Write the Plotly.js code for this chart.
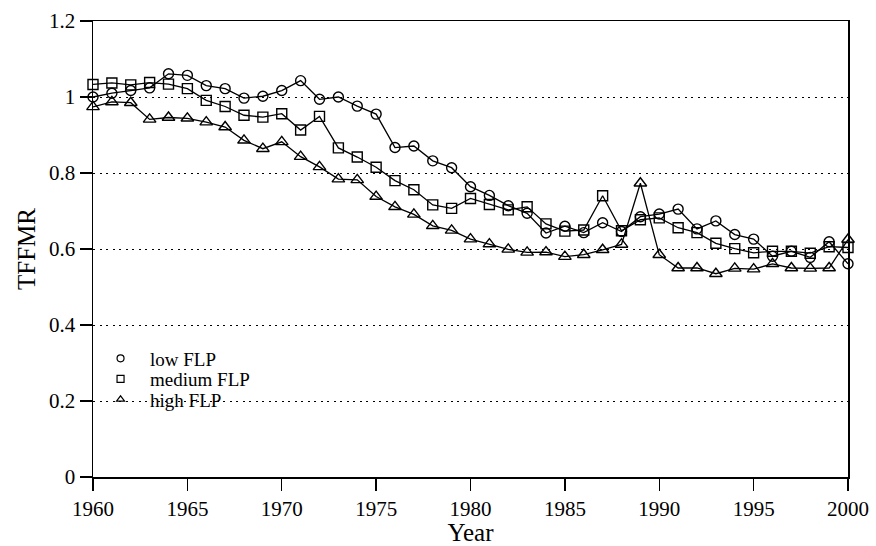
<!DOCTYPE html>
<html>
<head>
<meta charset="utf-8">
<script src="https://cdn.plot.ly/plotly-3.0.1.min.js"></script>
<style>html,body{margin:0;padding:0;background:#fff;}#chart{width:876px;height:546px;}</style>
</head>
<body>
<div id="chart"></div>
<script>
const years = [1960,1961,1962,1963,1964,1965,1966,1967,1968,1969,1970,1971,1972,1973,1974,1975,1976,1977,1978,1979,1980,1981,1982,1983,1984,1985,1986,1987,1988,1989,1990,1991,1992,1993,1994,1995,1996,1997,1998,1999,2000];
const lowFLP = [1.000,1.010,1.017,1.024,1.061,1.057,1.030,1.022,0.997,1.002,1.017,1.043,0.994,1.000,0.976,0.955,0.867,0.871,0.832,0.814,0.764,0.741,0.714,0.694,0.642,0.660,0.643,0.669,0.646,0.685,0.692,0.705,0.653,0.674,0.638,0.626,0.581,0.594,0.578,0.619,0.561];
const mediumFLP = [1.033,1.037,1.032,1.038,1.034,1.022,0.991,0.975,0.952,0.947,0.956,0.913,0.949,0.866,0.842,0.815,0.780,0.756,0.716,0.707,0.733,0.717,0.703,0.711,0.666,0.647,0.650,0.740,0.648,0.677,0.682,0.656,0.643,0.615,0.601,0.590,0.594,0.594,0.589,0.606,0.604];
const highFLP = [0.974,0.987,0.985,0.941,0.946,0.944,0.934,0.921,0.886,0.864,0.882,0.843,0.816,0.784,0.782,0.738,0.711,0.691,0.661,0.649,0.626,0.613,0.599,0.591,0.592,0.580,0.585,0.598,0.612,0.773,0.585,0.550,0.550,0.535,0.549,0.547,0.561,0.550,0.549,0.550,0.625];
const seriesNames = ['low FLP','medium FLP','high FLP'];
const tickYears = [1960,1965,1970,1975,1980,1985,1990,1995,2000];
const tickValsY = [0,0.2,0.4,0.6,0.8,1,1.2];
const tickTextY = ['0','0.2','0.4','0.6','0.8','1','1.2'];

const symbols = ['circle-open','square-open','triangle-up-open'];
const font = 'Liberation Serif, Times New Roman, serif';
const seriesData = [lowFLP, mediumFLP, highFLP];
const legendIds = ['legend','legend2','legend3'];
const traces = [];
seriesData.forEach((vals, i) => {
  traces.push({
    x: years, y: vals, mode: 'lines+markers', showlegend: false, cliponaxis: false,
    line: {color: '#000', width: 1.3},
    marker: {symbol: symbols[i], size: i === 2 ? 11 : 10, color: '#000', line: {width: 1.4, color: '#000'}}
  });
});
seriesData.forEach((vals, i) => {
  traces.push({
    x: [null], y: [null], mode: 'markers', name: '\u00a0\u00a0' + seriesNames[i], showlegend: true,
    legend: legendIds[i],
    marker: {symbol: symbols[i], size: 7, color: '#000', line: {width: 1.2, color: '#000'}}
  });
});

const legendBase = {
  x: 0.010, xanchor: 'left', yanchor: 'middle',
  bgcolor: 'rgba(0,0,0,0)', borderwidth: 0,
  font: {family: font, size: 19, color: '#000'}, itemwidth: 30
};
const rowY = [0.2599, 0.2149, 0.1700];

const layout = {
  width: 876, height: 546,
  margin: {l: 93, r: 28, t: 21, b: 69},
  paper_bgcolor: '#fff', plot_bgcolor: '#fff',
  font: {family: font, size: 21, color: '#000'},
  xaxis: {
    range: [1960, 2000], tickvals: tickYears,
    ticks: 'outside', ticklen: 12, tickwidth: 1.3, tickcolor: '#000',
    showline: true, linecolor: '#000', linewidth: 1.5, mirror: true,
    showgrid: false, zeroline: false,
    tickfont: {family: font, size: 21},
    title: {text: 'Year', font: {family: font, size: 25}, standoff: 4}
  },
  yaxis: {
    range: [0, 1.2], tickvals: tickValsY, ticktext: tickTextY,
    ticks: 'outside', ticklen: 12, tickwidth: 1.3, tickcolor: '#000',
    showline: true, linecolor: '#000', linewidth: 1.5, mirror: true,
    showgrid: true, gridcolor: '#000', gridwidth: 1, griddash: '2px,4.5px', zeroline: false,
    tickfont: {family: font, size: 21},
    title: {text: 'TFFMR', font: {family: font, size: 25}, standoff: 6}
  },
  legend: Object.assign({}, legendBase, {y: rowY[0]}),
  legend2: Object.assign({}, legendBase, {y: rowY[1]}),
  legend3: Object.assign({}, legendBase, {y: rowY[2]}),
  showlegend: true
};
Plotly.newPlot('chart', traces, layout, {staticPlot: true});
</script>
</body>
</html>
